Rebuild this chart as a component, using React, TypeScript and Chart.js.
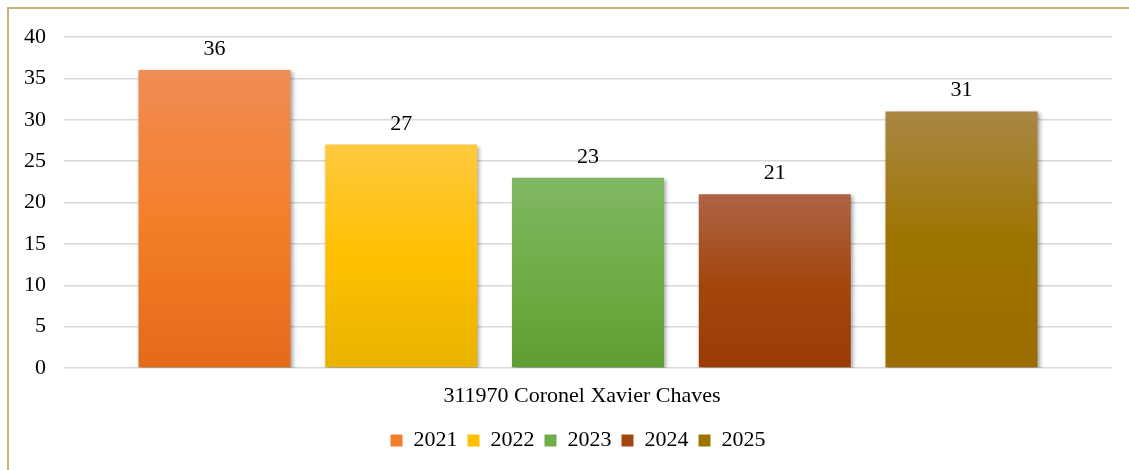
import React, { useEffect, useRef } from "react";
import { Chart, registerables } from "chart.js";

Chart.register(...registerables);

const categories = ["311970 Coronel Xavier Chaves"];
const seriesNames = ["2021", "2022", "2023", "2024", "2025"];
const values2021 = [36];
const values2022 = [27];
const values2023 = [23];
const values2024 = [21];
const values2025 = [31];
const yTicks = [0, 5, 10, 15, 20, 25, 30, 35, 40];

const seriesValues = [values2021, values2022, values2023, values2024, values2025];
const topColors = ["#F08C55", "#FFC93F", "#80B864", "#AE6446", "#A98744"];
const midColors = ["#F47F2A", "#FFC000", "#70AD47", "#A3470F", "#9E7400"];
const bottomColors = ["#E56A19", "#E8B300", "#5E9E32", "#9A3B04", "#996D00"];

const FONT = "'Liberation Serif', 'Times New Roman', serif";
const FS = 22;

export default function App() {
  const ref = useRef<HTMLCanvasElement | null>(null);

  useEffect(() => {
    if (!ref.current) return;

    const shadowPlugin = {
      id: "barShadow",
      afterLayout(chart: any) {
        if (chart.legend) {
          chart.legend.left += 22;
          chart.legend.right += 22;
          chart.legend.top += 3;
          chart.legend.bottom += 3;
        }
      },
      beforeDatasetsDraw(chart: any) {
        const ctx = chart.ctx;
        ctx.save();
        ctx.shadowColor = "rgba(0,0,0,0.35)";
        ctx.shadowBlur = 4;
        ctx.shadowOffsetX = 2;
        ctx.shadowOffsetY = 2;
      },
      afterDatasetsDraw(chart: any) {
        const ctx = chart.ctx;
        ctx.restore();
        ctx.save();
        ctx.fillStyle = "#000";
        ctx.font = `${FS}px ${FONT}`;
        ctx.textAlign = "center";
        ctx.textBaseline = "alphabetic";
        chart.data.datasets.forEach((ds: any, i: number) => {
          const meta = chart.getDatasetMeta(i);
          meta.data.forEach((bar: any, j: number) => {
            ctx.fillText(String(ds.data[j]), bar.x, bar.y - 15);
          });
        });
        ctx.restore();
      },
    };

    const datasets = seriesNames.map((name, i) => ({
      label: name,
      data: seriesValues[i],
      backgroundColor: (c: any) => {
        const chart = c.chart;
        const y = chart.scales && chart.scales.y;
        if (!y || c.raw === undefined || !chart.chartArea) return midColors[i];
        const top = y.getPixelForValue(c.raw);
        const bottom = y.getPixelForValue(0);
        if (!isFinite(top) || !isFinite(bottom) || top === bottom) return midColors[i];
        const g = chart.ctx.createLinearGradient(0, top, 0, bottom);
        g.addColorStop(0, topColors[i]);
        g.addColorStop(0.5, midColors[i]);
        g.addColorStop(1, bottomColors[i]);
        return g;
      },
      borderWidth: 0,
      categoryPercentage: 0.891,
      barPercentage: 0.814,
    }));

    const chart = new Chart(ref.current, {
      type: "bar",
      data: { labels: categories, datasets },
      plugins: [shadowPlugin],
      options: {
        animation: false,
        responsive: false,
        maintainAspectRatio: false,
        layout: { padding: { top: 37, right: 17, left: 0, bottom: 11.6 } },
        plugins: {
          tooltip: { enabled: false },
          legend: {
            position: "bottom",
            labels: {
              boxWidth: 12,
              boxHeight: 12,
              padding: 10,
              color: "#000",
              font: { family: FONT, size: FS },
              generateLabels: () =>
                seriesNames.map((n, i) => ({
                  text: n,
                  fillStyle: midColors[i],
                  strokeStyle: midColors[i],
                  lineWidth: 0,
                  hidden: false,
                  datasetIndex: i,
                  fontColor: "#000",
                })),
            },
          },
        },
        scales: {
          x: {
            grid: { display: false },
            border: { display: false },
            ticks: { color: "#000", font: { family: FONT, size: FS }, padding: 7, labelOffset: -6 },
          },
          y: {
            min: 0,
            max: 40,
            afterBuildTicks: (s: any) => {
              s.ticks = yTicks.map((v) => ({ value: v }));
            },
            afterFit: (s: any) => {
              s.width = 64;
            },
            grid: { color: "#D9D9D9", lineWidth: 1.5, drawTicks: false },
            border: { display: false },
            ticks: { color: "#000", font: { family: FONT, size: FS }, padding: 18 },
          },
        },
      },
    });

    return () => chart.destroy();
  }, []);

  return (
    <div style={{ position: "fixed", left: 0, top: 0, width: 1129, height: 470, background: "#fff", overflow: "hidden" }}>
      <div
        style={{
          position: "absolute",
          left: 7,
          top: 7,
          width: 2000,
          height: 2000,
          borderLeft: "2px solid #C4B47C",
          borderTop: "2px solid #C4B47C",
        }}
      />
      <canvas ref={ref} width={1129} height={470} style={{ position: "absolute", left: 0, top: 0 }} />
    </div>
  );
}
